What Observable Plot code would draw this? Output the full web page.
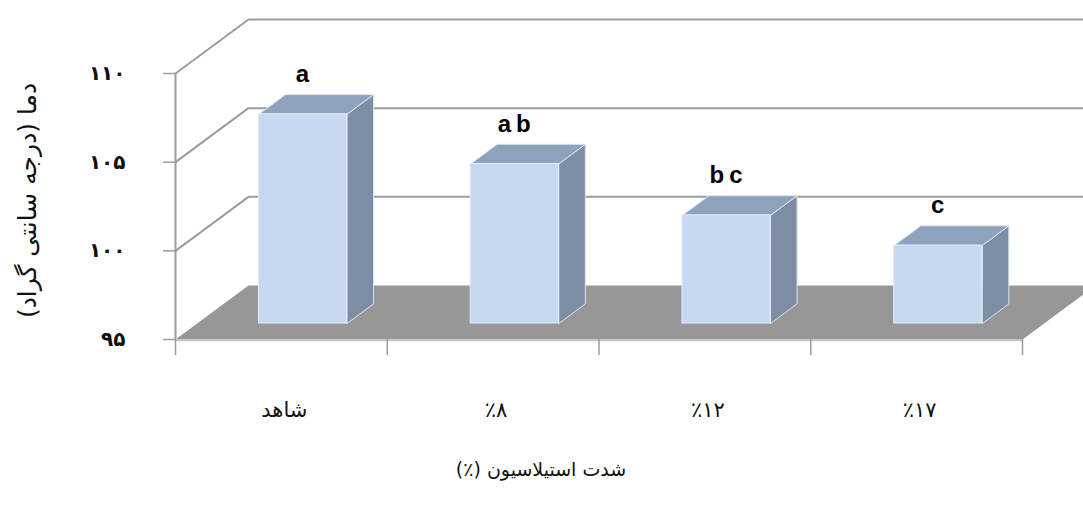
<!DOCTYPE html>
<html>
<head>
<meta charset="utf-8">
<script src="https://cdn.jsdelivr.net/npm/d3@7"></script>
<script src="https://cdn.jsdelivr.net/npm/@observablehq/plot@0.6"></script>
<style>
  html, body { margin: 0; padding: 0; background: #fff; overflow: hidden; }
  g[font-size="24"] text { letter-spacing: 5px; }
</style>
</head>
<body>
<div id="chart"></div>
<script>
// ---- data ----
const categories = ["شاهد", "٪۸", "٪۱۲", "٪۱۷"];
const values = [106.8, 104.0, 101.1, 99.4];
const letters = ["a", "ab", "bc", "c"];
const yTicks = [95, 100, 105, 110];
const yTickLabels = ["۹۵", "۱۰۰", "۱۰۵", "۱۱۰"];
const yTitle = "دما (درجه سانتی گراد)";
const xTitle = "شدت استیلاسیون (٪)";

// ---- 3D geometry (style) ----
const depth = {x: 0.3447, y: 3.045}; // back-wall offset in scale units
const f0 = 0.296, f1 = 0.66;          // bar front / back depth fractions
const hw = 0.208;                     // bar half width (category units)
const base = yTicks[0];
const nCat = categories.length;
const rtl = s => "\u202B" + s + "\u202C";

const floor = [[0, base], [nCat, base], [nCat + depth.x, base + depth.y], [depth.x, base + depth.y], [0, base]]
  .map(([x, y]) => ({x, y}));

const grid = [];
yTicks.slice(1).forEach(v => {
  [[0, v], [depth.x, v + depth.y], [nCat + depth.x, v + depth.y]].forEach(([x, y]) => grid.push({id: v, x, y}));
});

const sides = [], tops = [], fronts = [];
values.forEach((v, i) => {
  const c = i + 0.5, xl = c - hw, xr = c + hw;
  const a0x = f0 * depth.x, a0y = f0 * depth.y, a1x = f1 * depth.x, a1y = f1 * depth.y;
  [[xr + a0x, base + a0y], [xr + a1x, base + a1y], [xr + a1x, v + a1y], [xr + a0x, v + a0y], [xr + a0x, base + a0y]]
    .forEach(([x, y]) => sides.push({id: i, x, y}));
  [[xl + a0x, v + a0y], [xr + a0x, v + a0y], [xr + a1x, v + a1y], [xl + a1x, v + a1y], [xl + a0x, v + a0y]]
    .forEach(([x, y]) => tops.push({id: i, x, y}));
  fronts.push({x1: xl + a0x, x2: xr + a0x, y1: base + a0y, y2: v + a0y});
});

const gridColor = "#9c9c9c";

const chart = Plot.plot({
  width: 1083,
  height: 516,
  marginLeft: 175,
  marginRight: 61,
  marginTop: 73,
  marginBottom: 177,
  style: {fontFamily: "'DejaVu Sans', sans-serif", background: "#fff"},
  x: {type: "linear", domain: [0, nCat], label: null},
  y: {type: "linear", domain: [yTicks[0], yTicks[yTicks.length - 1]], label: null},
  marks: [
    Plot.line(floor, {x: "x", y: "y", fill: "#979797", stroke: "none"}),
    Plot.line(grid, {x: "x", y: "y", z: "id", stroke: gridColor, strokeWidth: 2}),
    Plot.ruleY([base], {x1: 0, x2: nCat, stroke: "#c4c4c4", strokeWidth: 1.5, dy: 1}),
    Plot.ruleX([0], {y1: yTicks[0], y2: yTicks[yTicks.length - 1], stroke: gridColor, strokeWidth: 2}),
    Plot.axisY(yTicks, {
      tickSize: 12, tickPadding: 38, stroke: gridColor, strokeWidth: 1.5, fill: "#111",
      tickFormat: d => yTickLabels[yTicks.indexOf(d)], fontSize: 20, fontWeight: "bold", label: null
    }),
    Plot.axisX(d3.range(nCat + 1), {tickSize: 16, stroke: gridColor, strokeWidth: 1.5, tickFormat: () => "", label: null}),
    Plot.line(sides, {x: "x", y: "y", z: "id", fill: "#7d8da4", stroke: "#dce6f2", strokeWidth: 1}),
    Plot.line(tops, {x: "x", y: "y", z: "id", fill: "#8fa2bb", stroke: "#dce6f2", strokeWidth: 1}),
    Plot.rect(fronts, {x1: "x1", x2: "x2", y1: "y1", y2: "y2", fill: "#c6d9f1", stroke: "#e4edf8", strokeWidth: 1}),
    Plot.text(letters, {
      x: (d, i) => i + 0.5 + f0 * depth.x, y: (d, i) => values[i] + f0 * depth.y,
      text: d => d, dx: 2, dy: -40, fontSize: 24, fontWeight: "bold", fontFamily: "'Liberation Sans', Arial, sans-serif", fill: "#000"
    }),
    Plot.text(categories, {
      x: (d, i) => i + 0.5, frameAnchor: "bottom", dx: 3, dy: 77, text: d => d,
      fontSize: 21, fontFamily: "'DejaVu Sans', sans-serif", fill: "#111"
    }),
    Plot.text([xTitle], {
      frameAnchor: "bottom", textAnchor: "middle", dx: -58, dy: 136, text: d => rtl(d),
      fontSize: 19, fill: "#111"
    }),
    Plot.text([yTitle], {
      frameAnchor: "left", textAnchor: "middle", dx: -148, dy: -6, rotate: -90, text: d => rtl(d),
      fontSize: 25, fill: "#111"
    })
  ]
});
document.getElementById("chart").appendChild(chart);
</script>
</body>
</html>
